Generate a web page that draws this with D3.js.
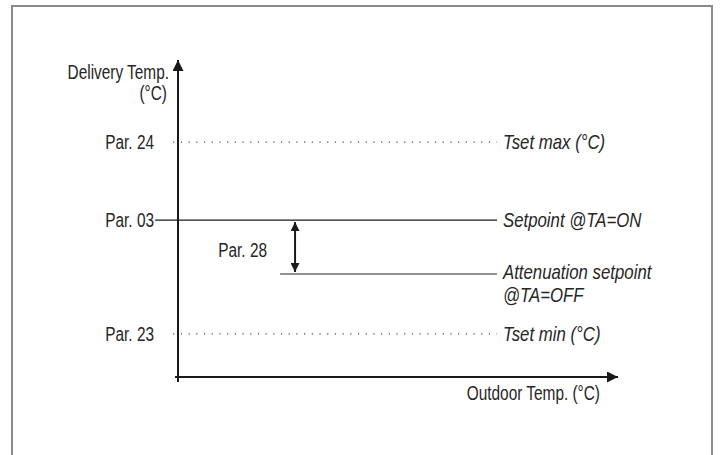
<!DOCTYPE html>
<html><head><meta charset="utf-8">
<script src="https://cdn.jsdelivr.net/npm/d3@7"></script>
<style>
body{margin:0;background:#fff;}
text{font-family:"Liberation Sans",Arial,sans-serif;fill:#262626;}
</style></head><body>
<svg id="c" width="721" height="455"></svg>
<script>
// Levels (y values in arbitrary units along delivery temperature axis)
const leftLabels = ["Par. 24", "Par. 03", "Par. 23"];
const levelNames = ["Tset max (°C)", "Setpoint @TA=ON", "Attenuation setpoint", "Tset min (°C)"];
const levelValues = [74.1, 49.5, 32.5, 13.6];
const levelStyles = ["dotted", "solid", "grey", "dotted"];
const levelStart = [-1.1, -5.2, 23.2, -1.1];
const levelEnd = [72.5, 72.5, 72.5, 72.5];
const attenuationExtra = "@TA=OFF";
const deltaLabel = "Par. 28";
const deltaX = 26.6;
const yAxisTitle = ["Delivery Temp.", "(°C)"];
const xAxisTitle = "Outdoor Temp. (°C)";

const svg = d3.select("#c");
const x = d3.scaleLinear().domain([0, 100]).range([178, 618]);
const y = d3.scaleLinear().domain([0, 100]).range([377, 60]);
const FS = 20, SX = 0.77, SXI = 0.84;

function label(px, py, str, anchor, italic){
  const g = svg.append("g").attr("transform", `translate(${px},${py}) scale(${italic?SXI:SX},1)`);
  g.append("text").attr("x",0).attr("y",0).attr("dy","0.35em")
    .attr("text-anchor", anchor||"start").attr("font-size",FS)
    .attr("font-style", italic ? "italic" : "normal").text(str);
}

// frame
svg.append("path").attr("d", "M12,455 V6 H712 V455").attr("fill","none").attr("stroke","#8a8a8a").attr("stroke-width",2);

const defs = svg.append("defs");
function marker(id, size){
  defs.append("marker").attr("id", id).attr("viewBox","0 0 10 10").attr("refX",10).attr("refY",5)
    .attr("markerWidth",size).attr("markerHeight",size).attr("markerUnits","userSpaceOnUse").attr("orient","auto-start-reverse")
    .append("path").attr("d","M0,0 L10,5 L0,10 z").attr("fill","#1a1a1a");
}
marker("ah", 11);
marker("ah2", 9);

// axes
svg.append("line").attr("x1", x(0)).attr("x2", x(0)).attr("y1", y(0)+5).attr("y2", y(100))
  .attr("stroke","#1a1a1a").attr("stroke-width",2).attr("marker-end","url(#ah)");
svg.append("line").attr("x1", x(0)-3).attr("x2", x(100)).attr("y1", y(0)).attr("y2", y(0))
  .attr("stroke","#1a1a1a").attr("stroke-width",2).attr("marker-end","url(#ah)");

// level lines
levelValues.forEach((v,i)=>{
  const st = levelStyles[i];
  svg.append("line").attr("x1", x(levelStart[i])).attr("x2", x(levelEnd[i])).attr("y1", y(v)).attr("y2", y(v))
    .attr("stroke", st==="grey" ? "#6e6e6e" : "#1a1a1a")
    .attr("stroke-width", st==="dotted" ? 1 : (st==="grey"?1.6:1.3))
    .attr("stroke-dasharray", st==="dotted" ? "1.2 6.5" : null);
  label(x(levelEnd[i]) + 6, y(v) + (i===2 ? -2 : 0), levelNames[i], "start", true);
});
label(x(levelEnd[2]) + 6, y(levelValues[2]) + 21, attenuationExtra, "start", true);

// left labels
[0,1,3].forEach((li,k)=>{
  label(154, y(levelValues[li]), leftLabels[k], "end", false);
});

// delta arrow
svg.append("line").attr("x1", x(deltaX)).attr("x2", x(deltaX))
  .attr("y1", y(levelValues[1])+2).attr("y2", y(levelValues[2])-2)
  .attr("stroke","#1a1a1a").attr("stroke-width",2)
  .attr("marker-start","url(#ah2)").attr("marker-end","url(#ah2)");
label(267, (y(levelValues[1])+y(levelValues[2]))/2 + 3, deltaLabel, "end", false);

// axis titles
label(169, 72, yAxisTitle[0], "end", false);
label(167, 93, yAxisTitle[1], "end", false);
label(600, 393, xAxisTitle, "end", false);
</script></body></html>
